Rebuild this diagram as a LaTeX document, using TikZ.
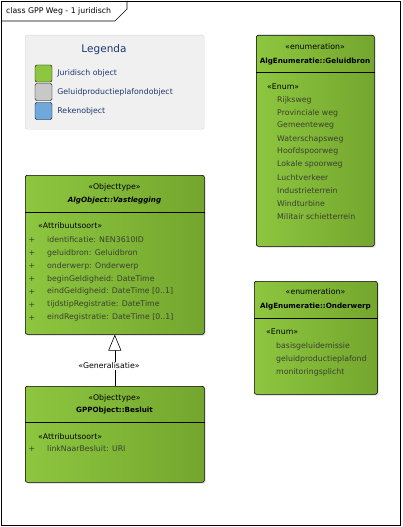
\documentclass[tikz,border=0pt]{standalone}
\usepackage{fontspec}
\setmainfont{DejaVu Sans}
\usepackage{xcolor}
\usepackage{tikz}
\usetikzlibrary{arrows.meta,positioning,shadows}

\definecolor{umlgreenL}{RGB}{141,198,63}
\definecolor{umlgreenR}{RGB}{116,166,46}
\definecolor{leggray}{RGB}{200,200,200}
\definecolor{legblue}{RGB}{111,168,220}
\definecolor{legtext}{RGB}{31,56,110}
\definecolor{legfill}{RGB}{240,240,240}
\definecolor{attrtext}{RGB}{58,64,48}

\tikzset{
    genptr/.style={
        -{Triangle[length=16pt,width=13pt,fill=white]},
        line width=0.6pt
    },
    clsbox/.style={
        draw, line width=0.6pt, rounded corners=2pt,
        anchor=north west, inner sep=0pt,
        left color=umlgreenL, right color=umlgreenR,
        drop shadow={shadow xshift=1.2pt,shadow yshift=-1.2pt,opacity=0.3}
    },
    sepline/.style={line width=0.6pt},
    stereo/.style={font=\fontsize{7.8}{9}\selectfont, inner sep=0pt},
    clsname/.style={font=\fontsize{7.2}{9}\selectfont\bfseries, inner sep=0pt},
    attr/.style={font=\fontsize{7.8}{9}\selectfont, text=attrtext, anchor=west, inner sep=0pt},
    plus/.style={font=\fontsize{7.8}{9}\selectfont, text=attrtext, inner sep=0pt},
    legbox/.style={draw=black!15, fill=legfill, rounded corners=2pt, anchor=north west,
        minimum width=179pt, minimum height=94pt, inner sep=0pt},
    swatch/.style={draw, rounded corners=2pt, minimum width=17pt, minimum height=17pt, inner sep=0pt},
    leglbl/.style={font=\fontsize{7.8}{9}\selectfont, text=legtext, anchor=west, inner sep=0pt}
}

\begin{document}
\begin{tikzpicture}[x=1pt,y=-1pt]
        \useasboundingbox (0,0) rectangle (402,527);
        % frame and title tab
        \draw[line width=0.8pt] (1,1) rectangle (400,525);
        \draw[line width=0.6pt] (1,21) -- (115,21) -- (127,9) -- (127,1);
        \node[font=\fontsize{7.8}{9}\selectfont, anchor=west, inner sep=0pt] (title) at (6,11) {class GPP Weg - 1 juridisch};

        % legend
        \node[legbox] (legenda) at (25,35) {};
        \node[font=\fontsize{10.5}{12}\selectfont, text=legtext, inner sep=0pt] (legtitle) at (104,50) {Legenda};
        \node[swatch, fill=umlgreenL] (sw1) at (43.5,73.5) {};
        \node[swatch, fill=leggray] (sw2) at (43.5,92) {};
        \node[swatch, fill=legblue] (sw3) at (43.5,111) {};
        \node[leglbl, right=5pt of sw1] (lbl1) {Juridisch object};
        \node[leglbl, right=5pt of sw2] (lbl2) {Geluidproductieplafondobject};
        \node[leglbl, right=5pt of sw3] (lbl3) {Rekenobject};

        % AlgObject::Vastlegging
        \node[clsbox, minimum width=179pt, minimum height=159pt] (vast) at (25,175) {};
        \draw[sepline] ([yshift=-37pt]vast.north west) -- ([yshift=-37pt]vast.north east);
        \node[stereo] (vastST) at (114.5,187) {«Objecttype»};
        \node[clsname, font=\fontsize{7.2}{9}\selectfont\bfseries\itshape] (vastNM) at (114.5,201) {AlgObject::Vastlegging};
        \node[stereo, anchor=west] (vastAS) at (38,226) {«Attribuutsoort»};
        \foreach \i/\a in {0/{identificatie: NEN3610ID}, 1/{geluidbron: Geluidbron},
            2/{onderwerp: Onderwerp}, 3/{beginGeldigheid: DateTime},
            4/{eindGeldigheid: DateTime [0..1]}, 5/{tijdstipRegistratie: DateTime},
            6/{eindRegistratie: DateTime [0..1]}}
        {
            \node[plus] (vastP\i) at (32,240+12.95*\i) {+};
            \node[attr] (vastA\i) at (47,240+12.95*\i) {\a};
        }

        % GPPObject::Besluit
        \node[clsbox, minimum width=179pt, minimum height=96pt] (besluit) at (25,386) {};
        \draw[sepline] ([yshift=-36pt]besluit.north west) -- ([yshift=-36pt]besluit.north east);
        \node[stereo] (besluitST) at (114.5,398) {«Objecttype»};
        \node[clsname] (besluitNM) at (114.5,411) {GPPObject::Besluit};
        \node[stereo, anchor=west] (besluitAS) at (38,437) {«Attribuutsoort»};
        \node[plus] (besluitP0) at (32,449) {+};
        \node[attr] (besluitA0) at (47,449) {linkNaarBesluit: URI};

        % generalisation
        \draw[genptr] (besluit.north) -- (vast.south);
        \node[stereo, fill=white, inner sep=1pt] (genlbl) at (109,366) {«Generalisatie»};

        % AlgEnumeratie::Geluidbron
        \node[clsbox, minimum width=118pt, minimum height=211pt] (bron) at (256,35) {};
        \draw[sepline] ([yshift=-37pt]bron.north west) -- ([yshift=-37pt]bron.north east);
        \node[stereo] (bronST) at (315,47) {«enumeration»};
        \node[clsname] (bronNM) at (315,62) {AlgEnumeratie::Geluidbron};
        \node[stereo, anchor=west] (bronEN) at (267,87) {«Enum»};
        \foreach \i/\a in {0/Rijksweg, 1/Provinciale weg, 2/Gemeenteweg, 3/Waterschapsweg,
            4/Hoofdspoorweg, 5/Lokale spoorweg, 6/Luchtverkeer, 7/Industrieterrein,
            8/Windturbine, 9/Militair schietterrein}
        {
            \node[attr] (bronL\i) at (277,100+12.95*\i) {\a};
        }

        % AlgEnumeratie::Onderwerp
        \node[clsbox, minimum width=123pt, minimum height=113pt] (onderwerp) at (254,281) {};
        \draw[sepline] ([yshift=-37pt]onderwerp.north west) -- ([yshift=-37pt]onderwerp.north east);
        \node[stereo] (onderwerpST) at (315.5,292) {«enumeration»};
        \node[clsname] (onderwerpNM) at (315.5,307) {AlgEnumeratie::Onderwerp};
        \node[stereo, anchor=west] (onderwerpEN) at (266,332) {«Enum»};
        \foreach \i/\a in {0/basisgeluidemissie, 1/geluidproductieplafond, 2/monitoringsplicht}
        {
            \node[attr] (onderwerpL\i) at (276,346+13*\i) {\a};
        }
\end{tikzpicture}
\end{document}
